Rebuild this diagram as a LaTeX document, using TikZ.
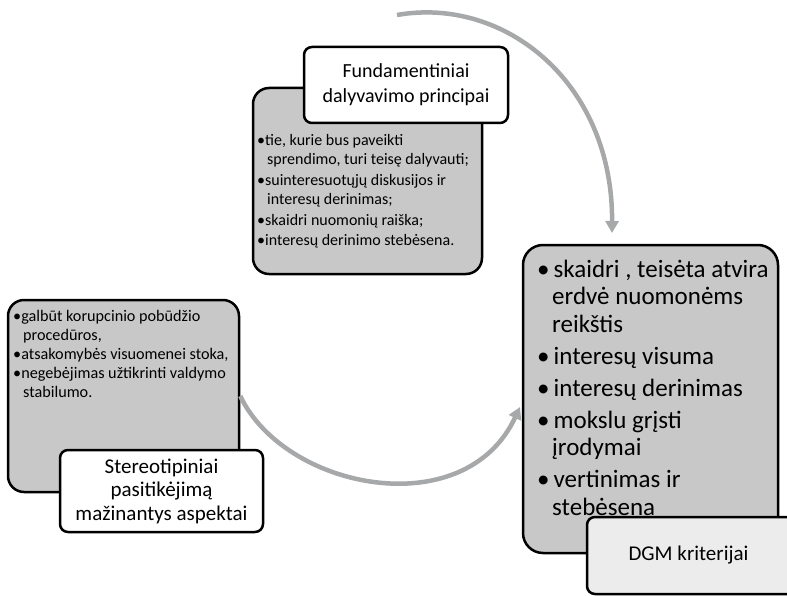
\documentclass[tikz,border=0pt]{standalone}
\usepackage{fontspec}
\setmainfont{Carlito}
\usetikzlibrary{arrows.meta}
\definecolor{boxgray}{HTML}{C8C8C8}
\definecolor{arcgray}{HTML}{A6A8AA}
\definecolor{lblgray}{HTML}{ECECEC}
\begin{document}
\begin{tikzpicture}[x=1pt,y=-1pt,
  panelbox/.style={draw=black, line width=2.5pt, fill=boxgray, rounded corners=16pt, inner sep=0pt},
  lblbox/.style={draw=black, line width=2.5pt, fill=white, rounded corners=8pt, inner sep=0pt, align=center},
  paneltext/.style={anchor=base west, inner sep=0pt},
  flow/.style={draw=arcgray, line width=4.5pt, -{Triangle[length=12pt,width=13pt]}},
]
\useasboundingbox (0,0) rectangle (787,596);

% arrows
\coordinate (topstart) at (397,15);
\coordinate (toptip) at (612,233);
\coordinate (btip) at (520,407);

% Fundamentiniai
\node[panelbox, minimum width=229pt, minimum height=186pt] (fpanel) at (367.5,181) {};
\node[paneltext, font=\fontsize{16}{19}\selectfont] (ftext) at (257,146) {%
\begin{tabular}[t]{@{}l@{}}
•tie, kurie bus paveikti\\
\hspace*{10pt}sprendimo, turi teisę dalyvauti;\\[2pt]
•suinteresuotųjų diskusijos ir\\
\hspace*{10pt}interesų derinimas;\\[2pt]
•skaidri nuomonių raiška;\\[1pt]
•interesų derinimo stebėsena.
\end{tabular}};
\node[lblbox, minimum width=204pt, minimum height=76pt, font=\fontsize{20}{25}\selectfont] (ftitle) at (406,85) {Fundamentiniai\\dalyvavimo principai};

% Stereotipiniai
\node[panelbox, minimum width=231pt, minimum height=192pt] (spanel) at (123.5,396) {};
\node[paneltext, font=\fontsize{16.2}{19.2}\selectfont] (stext) at (13,321) {%
\begin{tabular}[t]{@{}l@{}}
•galbūt korupcinio pobūdžio\\
\hspace*{10pt}procedūros,\\
•atsakomybės visuomenei stoka,\\
•negebėjimas užtikrinti valdymo\\
\hspace*{10pt}stabilumo.
\end{tabular}};
\node[lblbox, minimum width=203pt, minimum height=82pt, font=\fontsize{21}{23.5}\selectfont] (stitle) at (161.5,491) {Stereotipiniai\\pasitikėjimą\\mažinantys aspektai};

% DGM
\node[panelbox, rounded corners=20pt, minimum width=255pt, minimum height=308pt] (dpanel) at (650.5,399) {};
\node[paneltext, font=\fontsize{25}{27.5}\selectfont] (dtext) at (537,277) {%
\begin{tabular}[t]{@{}l@{}}
•\hspace{4pt}skaidri , teisėta atvira\\
\hspace*{15pt}erdvė nuomonėms\\
\hspace*{15pt}reikštis\\[4.5pt]
•\hspace{4pt}interesų visuma\\[4.5pt]
•\hspace{4pt}interesų derinimas\\[4.5pt]
•\hspace{4pt}mokslu grįsti\\
\hspace*{15pt}įrodymai\\[4.5pt]
•\hspace{4pt}vertinimas ir\\
\hspace*{15pt}stebėsena
\end{tabular}};
\node[lblbox, fill=lblgray, minimum width=213pt, minimum height=77pt, font=\fontsize{21}{24}\selectfont] (dtitle) at (693.5,555.5) {\hspace*{-10pt}DGM kriterijai};

% connectors
\draw[flow] (topstart) .. controls (505,-4) and (613,83) .. (toptip);
\draw[flow] (spanel.east) .. controls (285,490) and (465,525) .. (btip);
\end{tikzpicture}
\end{document}
